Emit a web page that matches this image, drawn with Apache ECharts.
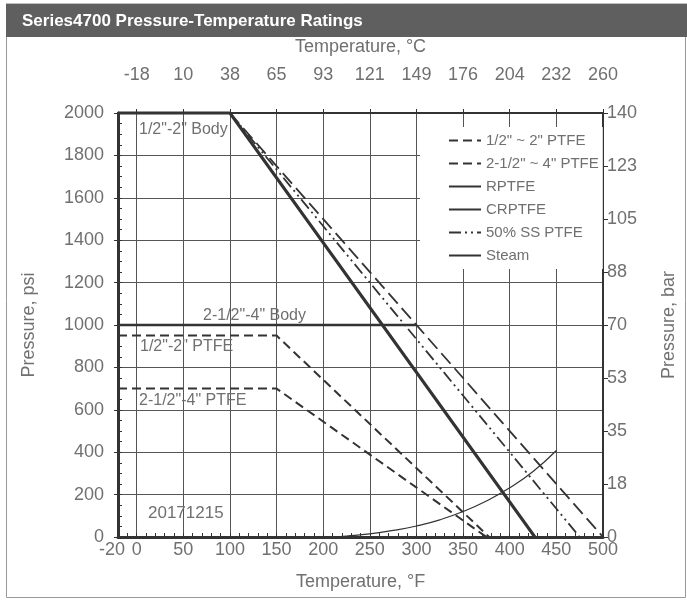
<!DOCTYPE html>
<html>
<head>
<meta charset="utf-8">
<script src="https://cdn.jsdelivr.net/npm/echarts@6/dist/echarts.min.js"></script>
<style>
  html, body { margin: 0; padding: 0; background: #fff; }
  #container { width: 687px; height: 600px; }
</style>
</head>
<body>
<div id="container"></div>
<script>
// axis ticks / labels
var fLabels = [-20, 0, 50, 100, 150, 200, 250, 300, 350, 400, 450, 500];
var fGrid = [0, 50, 100, 150, 200, 250, 300, 350, 400, 450];
var cTicks = [0, 50, 100, 150, 200, 250, 300, 350, 400, 450, 500];
var cLabels = ['-18', '10', '38', '65', '93', '121', '149', '176', '204', '232', '260'];
var barLabels = ['0', '18', '35', '53', '70', '88', '105', '123', '140'];

// series, [°F, psi]
var ptfeSmall = [[-20, 950], [150, 950], [378, 0]];
var ptfeLarge = [[-20, 700], [150, 700], [375, 0]];
var rptfe = [[100, 2000], [427, 0]];
var crptfe = [[100, 2000], [427, 0]];
var ss50 = [[100, 2000], [475, 0]];
var steam = [[212, 0], [225, 4.5], [250, 15], [275, 31], [300, 52], [325, 81], [350, 120], [375, 170], [400, 232], [425, 309], [450, 408]];
var bodySmall = [[-20, 2000], [100, 2000]];
var bodySmallSlope = [[100, 2000], [500, 0]];
var bodyLarge = [[-20, 1000], [300, 1000]];

var FONT = 'Liberation Sans';
var TXT = '#707070';
var INK = '#333';

var dom = document.getElementById("container");
var myChart = echarts.init(dom);
var option = null;

function fLabel(v) {
    // -20 sits a bit to the left so it doesn't run into 0
    return v === -20 ? '{l|-20}' : String(v);
}
function cLabel(v) {
    var i = cTicks.indexOf(v);
    return i < 0 ? '' : cLabels[i];
}
function barLabel(v) {
    var i = Math.round(v / 250);
    return barLabels[i] || '';
}

option = {
    animation: false,
    backgroundColor: '#fff',
    textStyle: { fontFamily: FONT },

    graphic: [
        { type: 'rect', shape: { x: 6.5, y: 3.5, width: 679, height: 594 }, style: { fill: 'none', stroke: '#999', lineWidth: 1 } },
        { type: 'rect', shape: { x: 6, y: 4, width: 681, height: 33 }, style: { fill: '#5f5f5f' } },
        { type: 'line', shape: { x1: 6, y1: 3.5, x2: 687, y2: 3.5 }, style: { stroke: '#bdbdbd', lineWidth: 1 } },
        { type: 'text', x: 22, y: 21, style: { text: 'Series4700 Pressure-Temperature Ratings', fill: '#fff', font: 'bold 17px "Liberation Sans"', textVerticalAlign: 'middle' } },
        // annotations
        { type: 'text', x: 139, y: 130, z: 10, style: { text: '1/2"-2" Body', fill: TXT, font: '16px "Liberation Sans"', textVerticalAlign: 'middle' } },
        { type: 'text', x: 203, y: 316, z: 10, style: { text: '2-1/2"-4" Body', fill: TXT, font: '16px "Liberation Sans"', textVerticalAlign: 'middle' } },
        { type: 'text', x: 140, y: 347, z: 10, style: { text: '1/2"-2" PTFE', fill: TXT, font: '16px "Liberation Sans"', textVerticalAlign: 'middle' } },
        { type: 'text', x: 139, y: 401, z: 10, style: { text: '2-1/2"-4" PTFE', fill: TXT, font: '16px "Liberation Sans"', textVerticalAlign: 'middle' } },
        { type: 'text', x: 148, y: 513, z: 10, style: { text: '20171215', fill: TXT, font: '17px "Liberation Sans"', textVerticalAlign: 'middle' } }
    ],

    legend: {
        orient: 'vertical',
        left: 420,
        top: 127,
        padding: [6, 4, 6, 28],
        itemWidth: 32,
        itemHeight: 14,
        itemGap: 8,
        backgroundColor: '#fff',
        itemStyle: { opacity: 0 },
        textStyle: { color: TXT, fontSize: 15, fontFamily: FONT },
        data: ['1/2" ~ 2" PTFE', '2-1/2" ~ 4" PTFE', 'RPTFE', 'CRPTFE', '50% SS PTFE', 'Steam']
    },

    grid: { left: 118, right: 84, top: 113, bottom: 63 },

    xAxis: [
        {   // °F, bottom
            type: 'value', position: 'bottom', min: -20, max: 500,
            name: 'Temperature, °F', nameLocation: 'middle', nameGap: 36,
            nameTextStyle: { color: TXT, fontSize: 18, fontFamily: FONT },
            axisLine: { onZero: false, lineStyle: { color: INK, width: 3 } },
            axisTick: { show: false, customValues: fGrid },
            axisLabel: {
                customValues: fLabels, color: TXT, fontSize: 18, margin: 4, fontFamily: FONT,
                formatter: fLabel,
                rich: { l: { color: TXT, fontSize: 18, fontFamily: FONT, padding: [0, 12, 0, 0] } }
            },
            splitLine: { show: true, lineStyle: { color: '#555', width: 1 } }
        },
        {   // °C, top
            type: 'value', position: 'top', min: -20, max: 500,
            name: 'Temperature, °C', nameLocation: 'middle', nameGap: 57,
            nameTextStyle: { color: TXT, fontSize: 18, fontFamily: FONT },
            axisLine: { onZero: false, lineStyle: { color: INK, width: 2 } },
            axisTick: { show: true, customValues: cTicks, length: 4, lineStyle: { color: INK } },
            axisLabel: { customValues: cTicks, color: TXT, fontSize: 18, margin: 29, fontFamily: FONT, formatter: cLabel },
            splitLine: { show: false }
        },
        {   // minor ticks, every 10 °F
            type: 'value', position: 'bottom', min: -20, max: 500, interval: 10,
            axisLine: { show: false, onZero: false },
            axisTick: { show: true, inside: true, length: 4, lineStyle: { color: INK, width: 1 } },
            axisLabel: { show: false },
            splitLine: { show: false }
        }
    ],

    yAxis: [
        {   // psi, left
            type: 'value', position: 'left', min: 0, max: 2000, interval: 200,
            name: 'Pressure, psi', nameLocation: 'middle', nameGap: 80, nameRotate: 90,
            nameTextStyle: { color: TXT, fontSize: 18, fontFamily: FONT },
            axisLine: { show: true, onZero: false, lineStyle: { color: INK, width: 3 } },
            axisTick: { show: true, length: 4, lineStyle: { color: INK } },
            axisLabel: { color: TXT, fontSize: 18, margin: 14, fontFamily: FONT, formatter: function (v) { return String(v); } },
            splitLine: { show: true, lineStyle: { color: '#555', width: 1 } }
        },
        {   // bar, right
            type: 'value', position: 'right', min: 0, max: 2000, interval: 250,
            name: 'Pressure, bar', nameLocation: 'middle', nameGap: 57, nameRotate: 90,
            nameTextStyle: { color: TXT, fontSize: 18, fontFamily: FONT },
            axisLine: { show: true, onZero: false, lineStyle: { color: INK, width: 2 } },
            axisTick: { show: true, length: 5, lineStyle: { color: INK } },
            axisLabel: { color: TXT, fontSize: 18, margin: 4, fontFamily: FONT, formatter: barLabel },
            splitLine: { show: false }
        },
        {   // minor ticks, every 50 psi
            type: 'value', position: 'left', min: 0, max: 2000, interval: 50,
            axisLine: { show: false, onZero: false },
            axisTick: { show: true, inside: true, length: 4, lineStyle: { color: INK, width: 1 } },
            axisLabel: { show: false },
            splitLine: { show: false }
        }
    ],

    series: [
        {
            name: '1/2" ~ 2" PTFE', type: 'line', data: ptfeSmall, symbol: 'none', clip: false,
            lineStyle: { color: INK, width: 2, type: [9, 5] }, itemStyle: { color: INK }
        },
        {
            name: '2-1/2" ~ 4" PTFE', type: 'line', data: ptfeLarge, symbol: 'none', clip: false,
            lineStyle: { color: INK, width: 2, type: [9, 5] }, itemStyle: { color: INK }
        },
        {
            name: 'CRPTFE', type: 'line', data: crptfe, symbol: 'none', clip: false,
            lineStyle: { color: INK, width: 2 }, itemStyle: { color: INK }
        },
        {
            name: 'RPTFE', type: 'line', data: rptfe, symbol: 'none', clip: false, z: 5,
            lineStyle: { color: INK, width: 3 }, itemStyle: { color: INK }
        },
        {
            name: '50% SS PTFE', type: 'line', data: ss50, symbol: 'none', clip: false,
            lineStyle: { color: INK, width: 1.8, type: [12, 4, 2, 4, 2, 4] }, itemStyle: { color: INK }
        },
        {
            name: 'Steam', type: 'line', data: steam, symbol: 'none', smooth: true, clip: false,
            lineStyle: { color: INK, width: 1.2 }, itemStyle: { color: INK }
        },
        {
            name: 'body-small', type: 'line', data: bodySmall, symbol: 'none', clip: false,
            lineStyle: { color: INK, width: 3 }
        },
        {
            name: 'body-small-slope', type: 'line', data: bodySmallSlope, symbol: 'none', clip: false,
            lineStyle: { color: INK, width: 1.8, type: [14, 6] }
        },
        {
            name: 'body-large', type: 'line', data: bodyLarge, symbol: 'none', clip: false,
            lineStyle: { color: INK, width: 2.5 }
        }
    ]
};

if (option && typeof option === "object") {
    myChart.setOption(option, true);
}
</script>
</body>
</html>
